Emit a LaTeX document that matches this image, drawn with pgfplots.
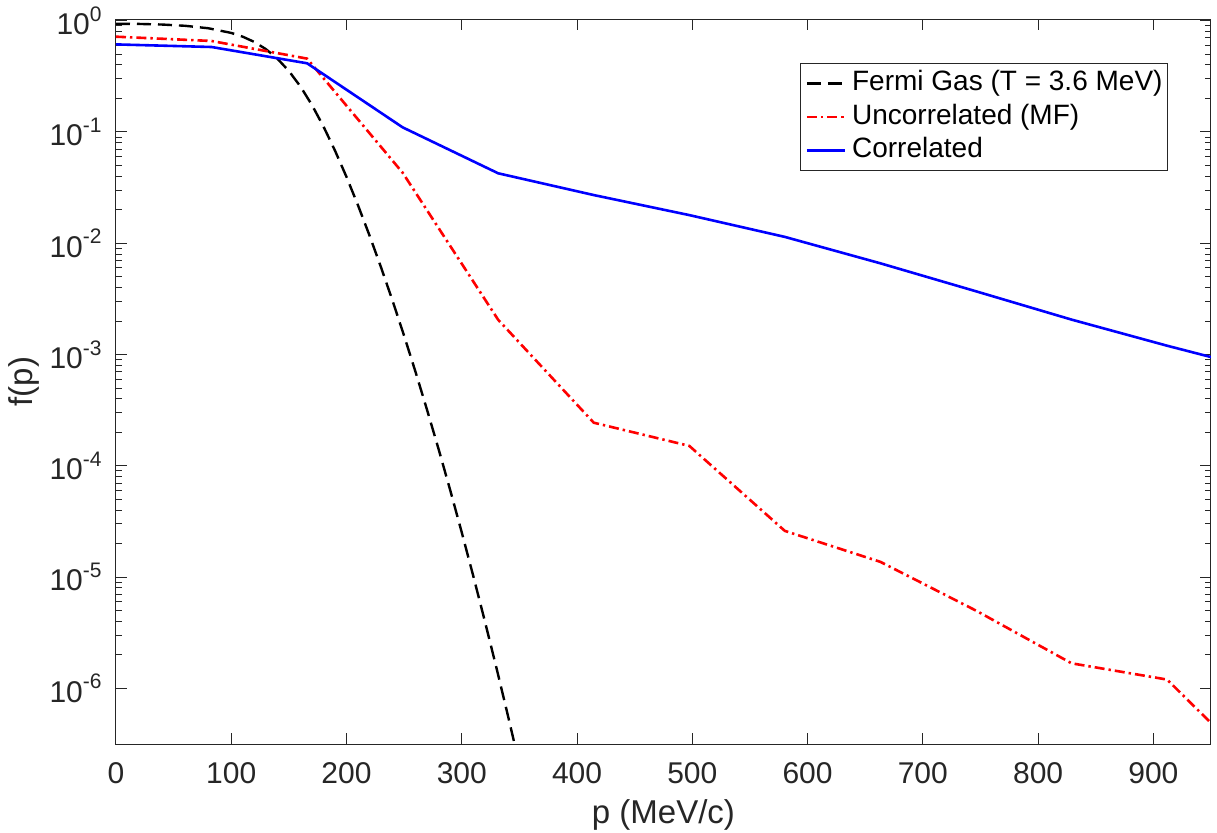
\documentclass[border=0pt]{standalone}
\usepackage{pgfplots}
\pgfplotsset{compat=1.18}
\usepackage{fontspec}
\setmainfont{Liberation Sans}
\definecolor{axgray}{RGB}{38,38,38}
\newcommand{\tlab}[1]{10\raisebox{6.6pt}{\fontsize{10.5}{10.5}\selectfont #1}}

\pgfplotstableread{
p f
0 0.9383
20 0.9348
40 0.9231
60 0.8994
80 0.8551
100 0.7761
110 0.7176
120 0.6439
130 0.5554
140 0.4559
150 0.3530
160 0.2565
170 0.1747
180 0.1120
190 0.0680
200 0.0394
210 0.02187
220 0.01170
230 6.05e-3
240 3.03e-3
250 1.469e-3
260 6.91e-4
270 3.15e-4
280 1.398e-4
290 6.02e-5
300 2.515e-5
310 1.02e-5
320 4.02e-6
330 1.54e-6
340 5.71e-7
350 2.06e-7
}\fermi

\pgfplotstableread{
p f
0 0.718
82.9 0.657
165.8 0.456
248.7 0.043
331.6 2.05e-3
414.5 2.44e-4
497.4 1.51e-4
580.3 2.6e-5
663.2 1.37e-5
746.1 5.0e-6
829.0 1.68e-6
911.9 1.2e-6
994.8 1.7e-7
}\uncorr

\pgfplotstableread{
p f
0 0.612
82.9 0.58
165.8 0.414
248.7 0.110
331.6 0.0425
414.5 0.0271
497.4 0.0179
580.3 0.0114
663.2 6.6e-3
746.1 3.7e-3
829.0 2.06e-3
911.9 1.2e-3
994.8 7.2e-4
}\corr

\begin{document}
\begin{tikzpicture}
\useasboundingbox (-58pt,-44pt) rectangle (550.5pt,372pt);
\begin{axis}[
  at={(0,0)}, anchor=south west,
  scale only axis, width=547.5pt, height=362.5pt,
  ymode=log,
  xmin=0, xmax=950, ymin=3.1623e-7, ymax=1.035,
  xtick={0,100,...,900},
  ytick={1e-6,1e-5,1e-4,1e-3,1e-2,1e-1,1},
  yticklabels={\tlab{-6},\tlab{-5},\tlab{-4},\tlab{-3},\tlab{-2},\tlab{-1},\tlab{0}},
  tick align=inside,
  tick pos=both,
  major tick length=5.5pt, minor tick length=3pt,
  axis line style={axgray, line width=0.5pt},
  every tick/.style={axgray, line width=0.5pt},
  tick label style={font=\fontsize{15}{18}\selectfont, text=axgray},
  xticklabel style={anchor=base, yshift=-19.5pt, /pgf/number format/assume math mode=true},
  yticklabel style={anchor=east, inner sep=0pt, xshift=-7pt},
  xlabel={p (MeV/c)}, ylabel={f(p)},
  every axis x label/.style={at={(axis description cs:0.5,0)}, yshift=-39.5pt, anchor=base, font=\fontsize{16.5}{18}\selectfont, text=axgray},
  every axis y label/.style={at={(axis description cs:0,0.5)}, xshift=-46pt, rotate=90, anchor=center, font=\fontsize{16.5}{18}\selectfont, text=axgray},
  legend style={at={(rel axis cs:0.6247,0.9393)}, anchor=north west,
    draw=axgray, line width=0.5pt, fill=white,
    inner xsep=2.5pt, inner ysep=3pt, row sep=2.75pt,
    font=\fontsize{14}{16}\selectfont,
    nodes={inner sep=0pt, text height=10.5pt, text depth=3.5pt},
    /tikz/column 1/.style={column sep=3pt}},
  legend cell align=left,
  legend image code/.code={\draw[#1] (0pt,0pt) -- (19pt,0pt);},
]
\addplot[black, line width=1.2pt, dash pattern=on 7pt off 3.5pt] table[x=p,y=f] {\fermi};
\addlegendentry{Fermi Gas (T = 3.6 MeV)}
\addplot[red, line width=1.3pt, dash pattern=on 5pt off 2pt on 1.2pt off 2pt] table[x=p,y=f] {\uncorr};
\addlegendentry{Uncorrelated (MF)}
\addplot[blue, line width=1.3pt] table[x=p,y=f] {\corr};
\addlegendentry{Correlated}
\end{axis}
\end{tikzpicture}
\end{document}
